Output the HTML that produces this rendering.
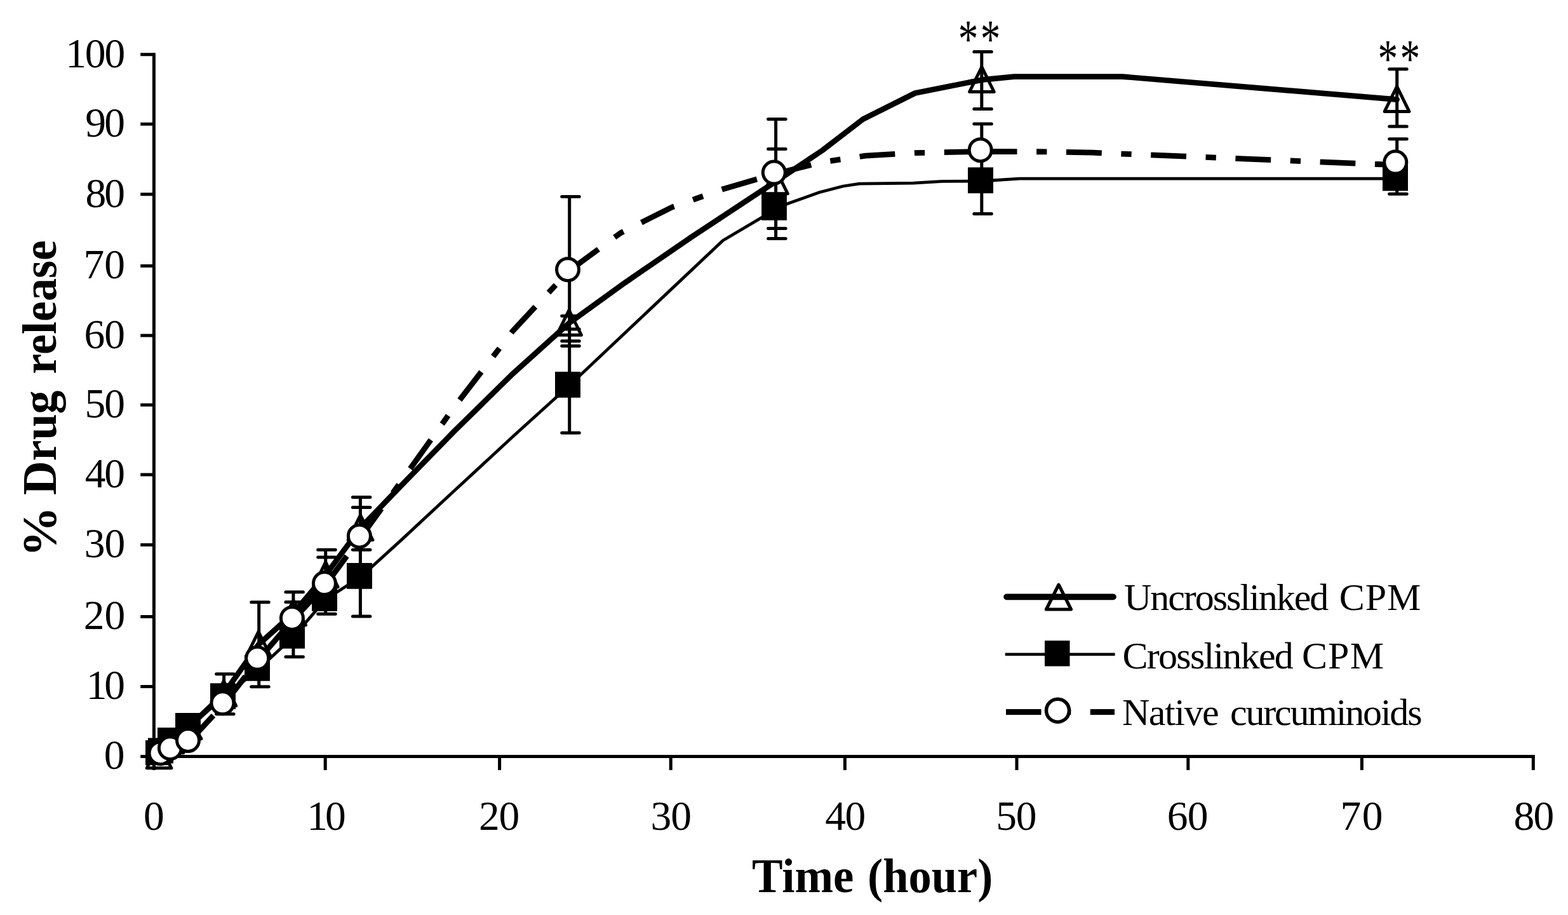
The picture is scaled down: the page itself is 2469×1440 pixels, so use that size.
<!DOCTYPE html>
<html lang="en"><head><meta charset="utf-8"><title>% Drug release</title>
<style>html,body{margin:0;padding:0;background:#fff;}body{width:2469px;height:1440px;overflow:hidden;}svg{display:block;}text{font-family:"Liberation Serif",serif;fill:#000;white-space:pre;}</style>
</head><body>
<svg width="2469" height="1440" viewBox="0 0 2469 1440">
<rect width="2469" height="1440" fill="#fff"/>
<g stroke="#000" stroke-width="5" fill="none">
<path d="M242.4 83.3V1212.0"/>
<path d="M221.2 1190.5H2416.8"/>
<path d="M221.2 85.8H242.4M221.2 195.3H242.4M221.2 305.8H242.4M221.2 418.4H242.4M221.2 527.9H242.4M221.2 637.3H242.4M221.2 746.9H242.4M221.2 857.4H242.4M221.2 970.4H242.4M221.2 1080.5H242.4M512.2 1190.5V1212.0M786.6 1190.5V1212.0M1056.2 1190.5V1212.0M1330.4 1190.5V1212.0M1601.0 1190.5V1212.0M1870.8 1190.5V1212.0M2144.4 1190.5V1212.0M2414.3 1190.5V1212.0"/>
</g>
<text y="105.6" font-size="65.5"><tspan x="103.2" letter-spacing="-2.10">100</tspan></text>
<text y="215.1" font-size="65.5"><tspan x="134.2" letter-spacing="-2.60">90</tspan></text>
<text y="325.6" font-size="65.5"><tspan x="134.5" letter-spacing="-3.00">80</tspan></text>
<text x="131.5" y="438.2" font-size="65.5">70</text>
<text y="547.7" font-size="65.5"><tspan x="132.5" letter-spacing="-1.00">60</tspan></text>
<text y="657.1" font-size="65.5"><tspan x="133.5" letter-spacing="-2.00">50</tspan></text>
<text y="766.7" font-size="65.5"><tspan x="133.7" letter-spacing="-2.20">40</tspan></text>
<text y="877.2" font-size="65.5"><tspan x="132.8" letter-spacing="-1.00">30</tspan></text>
<text x="131.8" y="990.2" font-size="65.5">20</text>
<text y="1100.3" font-size="65.5"><tspan x="135.7" letter-spacing="-4.20">10</tspan></text>
<text x="163.8" y="1210.3" font-size="65.5">0</text>
<text x="226.1" y="1306.2" font-size="65.5">0</text>
<text y="1306.2" font-size="65.5"><tspan x="483.2" letter-spacing="-4.00">10</tspan></text>
<text y="1306.2" font-size="65.5"><tspan x="754.0" letter-spacing="-1.20">20</tspan></text>
<text y="1306.2" font-size="65.5"><tspan x="1024.6" letter-spacing="-1.00">30</tspan></text>
<text y="1306.2" font-size="65.5"><tspan x="1299.2" letter-spacing="-1.40">40</tspan></text>
<text y="1306.2" font-size="65.5"><tspan x="1568.2" letter-spacing="-1.20">50</tspan></text>
<text y="1306.2" font-size="65.5"><tspan x="1837.7" letter-spacing="-0.60">60</tspan></text>
<text y="1306.2" font-size="65.5"><tspan x="2110.6" letter-spacing="1.40">70</tspan></text>
<text y="1306.2" font-size="65.5"><tspan x="2383.6" letter-spacing="-1.80">80</tspan></text>
<text y="1403.7" font-size="76" font-weight="bold"><tspan x="1184.0" textLength="160.4" lengthAdjust="spacingAndGlyphs">Time</tspan> <tspan x="1366.0" textLength="197.4" lengthAdjust="spacingAndGlyphs">(hour)</tspan></text>
<text y="0.0" font-size="76" font-weight="bold" transform="translate(87.9 0) rotate(-90)"><tspan x="-876.5" textLength="79.5" lengthAdjust="spacingAndGlyphs">%</tspan> <tspan x="-779.1" textLength="164.8" lengthAdjust="spacingAndGlyphs">Drug</tspan> <tspan x="-588.8" textLength="210.8" lengthAdjust="spacingAndGlyphs">release</tspan></text>
<text y="960.3" font-size="60"><tspan x="1770.0" letter-spacing="-2.03">Uncrosslinked</tspan> <tspan x="2108.7" letter-spacing="1.00">CPM</tspan></text>
<text y="1051.5" font-size="60"><tspan x="1767.5" letter-spacing="-1.74">Crosslinked</tspan> <tspan x="2049.9" letter-spacing="1.20">CPM</tspan></text>
<text y="1141.4" font-size="60"><tspan x="1767.0" letter-spacing="-1.48">Native</tspan> <tspan x="1937.1" letter-spacing="-2.20">curcuminoids</tspan></text>
<text transform="translate(1508.7 89.8) scale(0.74 1)" font-size="85.5" letter-spacing="4.6">**</text>
<text transform="translate(2169.4 120.7) scale(0.74 1)" font-size="85.5" letter-spacing="4.6">**</text>
<g stroke="#000" stroke-width="5" fill="none" stroke-linecap="round">
<path d="M352.6 1060.7V1123.7M340.6 1060.7H368.1M340.6 1123.7H368.1"/>
<path d="M407.7 947.7V1080.8M395.7 947.7H423.2M395.7 1080.8H423.2"/>
<path d="M461.9 931.7V1033.7M449.9 931.7H477.4M449.9 947.4H477.4M449.9 1033.7H477.4"/>
<path d="M512.7 865.3V966.3M500.7 865.3H528.2M500.7 877.0H528.2M500.7 966.3H528.2"/>
<path d="M567.4 782.6V970.0M555.4 782.6H582.9M555.4 798.6H582.9M555.4 865.3H582.9M555.4 970.0H582.9"/>
<path d="M896.7 309.4V681.2M884.7 309.4H912.2M884.7 497.3H912.2M884.7 518.0H912.2M884.7 536.7H912.2M884.7 544.4H912.2M884.7 681.2H912.2"/>
<path d="M1221.6 187.4V375.6M1209.6 187.4H1237.1M1209.6 234.4H1237.1M1209.6 359.6H1237.1M1209.6 375.6H1237.1"/>
<path d="M1545.8 81.4V171.4M1545.8 195.1V336.6M1533.8 81.4H1561.3M1533.8 171.4H1561.3M1533.8 195.1H1561.3M1533.8 336.6H1561.3"/>
<path d="M2199.7 108.7V199.0M2199.7 218.8V305.3M2187.7 108.7H2215.2M2187.7 199.0H2215.2M2187.7 218.8H2215.2M2187.7 305.3H2215.2"/>
</g>
<path d="M250.5 1190.0L269.5 1166.0L297.5 1144.0L352.3 1092.0L407.0 1014.6L462.0 965.0L512.7 905.0L567.5 831.0L630.5 765.5L714.9 679.0L807.7 587.9L896.0 508.5L984.2 444.8L1088.3 373.3L1192.5 304.6L1221.0 286.0L1294.5 237.0L1358.8 187.6L1441.0 146.5L1545.9 125.7L1596.9 120.6L1767.1 120.6L1983.5 138.6L2199.6 156.6" fill="none" stroke="#000" stroke-width="8.7" stroke-linejoin="round" stroke-linecap="round"/>
<path d="M250.5 1169.6L269.9 1208.8L231.2 1208.8Z" fill="none" stroke="#000" stroke-width="5" stroke-linejoin="round"/>
<path d="M269.5 1149.1L288.9 1184.8L250.2 1184.8Z" fill="none" stroke="#000" stroke-width="5" stroke-linejoin="round"/>
<path d="M297.5 1127.1L316.9 1162.8L278.1 1162.8Z" fill="none" stroke="#000" stroke-width="5" stroke-linejoin="round"/>
<path d="M352.3 1071.6L371.7 1110.8L332.9 1110.8Z" fill="none" stroke="#000" stroke-width="5" stroke-linejoin="round"/>
<path d="M407.0 994.2L426.4 1033.4L387.6 1033.4Z" fill="none" stroke="#000" stroke-width="5" stroke-linejoin="round"/>
<path d="M462.0 944.6L481.4 983.8L442.6 983.8Z" fill="none" stroke="#000" stroke-width="5" stroke-linejoin="round"/>
<path d="M512.7 884.6L532.1 923.8L493.4 923.8Z" fill="none" stroke="#000" stroke-width="5" stroke-linejoin="round"/>
<path d="M567.5 810.6L586.9 849.8L548.1 849.8Z" fill="none" stroke="#000" stroke-width="5" stroke-linejoin="round"/>
<path d="M896.0 488.1L915.4 527.3L876.6 527.3Z" fill="none" stroke="#000" stroke-width="5" stroke-linejoin="round"/>
<path d="M1221.0 265.6L1240.3 304.8L1201.7 304.8Z" fill="none" stroke="#000" stroke-width="5" stroke-linejoin="round"/>
<path d="M1545.9 105.3L1565.2 144.5L1526.6 144.5Z" fill="none" stroke="#000" stroke-width="5" stroke-linejoin="round"/>
<path d="M2199.6 136.2L2218.9 175.4L2180.2 175.4Z" fill="none" stroke="#000" stroke-width="5" stroke-linejoin="round"/>
<path d="M251.5 1185.0L270.1 1167.1L298.0 1144.0L352.6 1097.3L407.0 1052.9L462.2 1001.9L513.0 943.0L567.9 908.0L630.8 850.9L715.1 772.6L807.9 686.8L896.1 607.0L1138.3 378.5L1221.0 329.6L1238.9 321.1L1290.0 302.8L1327.6 293.0L1353.1 289.1L1438.2 288.2L1483.5 285.4L1546.0 285.0L1605.4 281.2L2170.0 281.2L2199.0 281.2" fill="none" stroke="#000" stroke-width="4.8" stroke-linejoin="round"/>
<rect x="229" y="1165" width="40" height="39.2" fill="#000"/>
<rect x="233" y="1161.4" width="40" height="40" fill="#000"/>
<rect x="248" y="1145.1" width="40" height="40.8" fill="#000"/>
<rect x="276" y="1122.0" width="40" height="40.8" fill="#000"/>
<rect x="331" y="1075.3" width="40" height="40.8" fill="#000"/>
<rect x="385" y="1030.9" width="40" height="40.8" fill="#000"/>
<rect x="440" y="979.9" width="40" height="40.8" fill="#000"/>
<rect x="491" y="921.0" width="40" height="40.8" fill="#000"/>
<rect x="546" y="886.0" width="40" height="40.8" fill="#000"/>
<rect x="874" y="585.0" width="40" height="40.8" fill="#000"/>
<rect x="1199.1" y="303.1" width="39.8" height="43.6" fill="#000"/>
<rect x="1524" y="263.4" width="40" height="40.8" fill="#000"/>
<rect x="2177" y="259.6" width="40" height="40.8" fill="#000"/>
<g fill="none" stroke="#000" stroke-width="8.8" stroke-dasharray="55.8 30.6 16.3 30.6" stroke-linejoin="round">
<path d="M254.6 1187.2L269.9 1179.2"/>
<path d="M269.9 1179.2L298.0 1167.0"/>
<path d="M298.0 1167.0L352.4 1108.3"/>
<path d="M352.4 1108.3L407.2 1037.8"/>
<path d="M407.2 1037.8L461.9 974.9"/>
<path d="M461.9 974.9L512.9 920.1"/>
<path d="M512.9 920.1L567.9 845.7"/>
<path d="M567.9 845.7L630.8 758.8L715.1 640.8L807.8 520.4L896.0 426.2"/>
<path d="M896.0 426.2L977.4 366.5L1058.6 325.9L1139.7 297.2L1220.8 273.6" stroke-dasharray="57.5 31.5 16.8 31.5"/>
<path d="M1220.8 273.6L1294.3 255.2L1362.7 245.2L1441.4 240.6L1545.7 238.5" stroke-dashoffset="-2.5"/>
<path d="M1545.7 238.5L1650.0 238.8L1720.0 240.2L1772.0 242.3L2170.0 258.5L2199.3 259.5"/>
</g>
<circle cx="252.6" cy="1185.2" r="17.5" fill="#fff" stroke="#000" stroke-width="5"/>
<circle cx="267.9" cy="1177.2" r="17.5" fill="#fff" stroke="#000" stroke-width="5"/>
<circle cx="296.0" cy="1165.0" r="17.5" fill="#fff" stroke="#000" stroke-width="5"/>
<circle cx="350.4" cy="1106.3" r="17.5" fill="#fff" stroke="#000" stroke-width="5"/>
<circle cx="405.2" cy="1035.8" r="17.5" fill="#fff" stroke="#000" stroke-width="5"/>
<circle cx="459.9" cy="972.9" r="17.5" fill="#fff" stroke="#000" stroke-width="5"/>
<circle cx="510.9" cy="918.1" r="17.5" fill="#fff" stroke="#000" stroke-width="5"/>
<circle cx="565.9" cy="843.7" r="17.5" fill="#fff" stroke="#000" stroke-width="5"/>
<circle cx="894.0" cy="424.2" r="17.5" fill="#fff" stroke="#000" stroke-width="5"/>
<circle cx="1218.8" cy="271.6" r="17.5" fill="#fff" stroke="#000" stroke-width="5"/>
<circle cx="1543.7" cy="236.2" r="17.5" fill="#fff" stroke="#000" stroke-width="5"/>
<circle cx="2197.3" cy="255.6" r="17.5" fill="#fff" stroke="#000" stroke-width="5"/>
<path d="M1585 939.4H1753" stroke="#000" stroke-width="9.6" stroke-linecap="round" fill="none"/>
<path d="M1667.0 920.2L1686.5 959.0L1647.5 959.0Z" fill="none" stroke="#000" stroke-width="5.2" stroke-linejoin="round"/>
<path d="M1582.7 1029.8H1755.6" stroke="#000" stroke-width="4.6" fill="none"/>
<rect x="1645" y="1008.2" width="39.5" height="40.3" fill="#000"/>
<path d="M1584 1120.5H1755" stroke="#000" stroke-width="9.2" stroke-dasharray="55.5 30.5 16.3 30.5" fill="none"/>
<circle cx="1665.5" cy="1118.2" r="18" fill="#fff" stroke="#000" stroke-width="5.5"/>
</svg></body></html>
